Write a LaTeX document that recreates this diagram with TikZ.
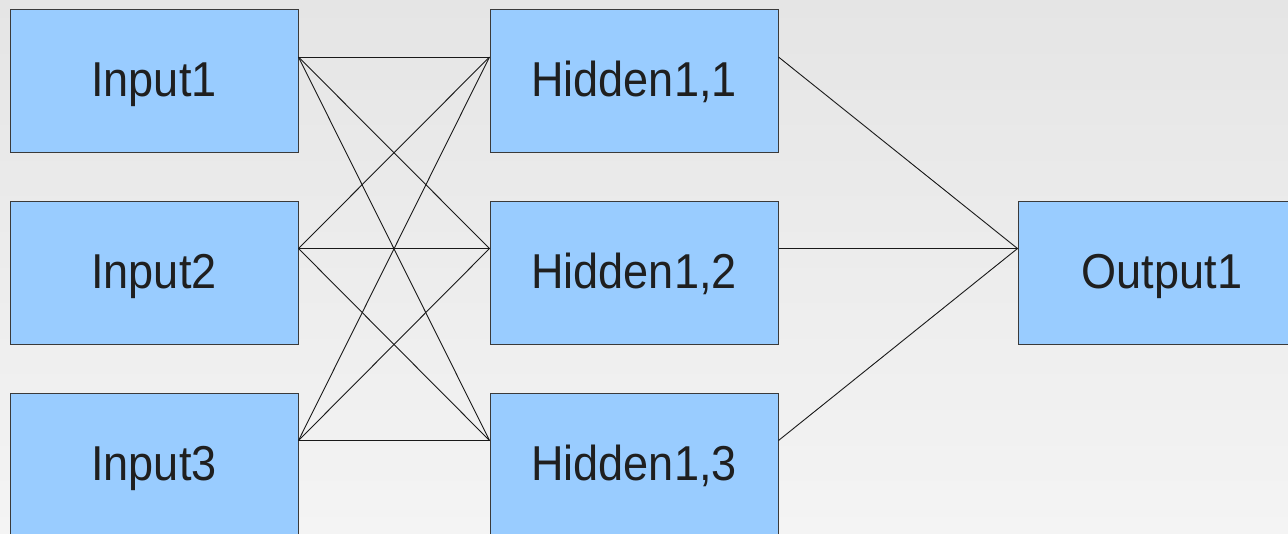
\documentclass[tikz,border=0pt]{standalone}
\usepackage{fontspec}
\setmainfont{Liberation Sans}
\newfontfamily\lblfont[FakeStretch=0.92]{Liberation Sans}
\usetikzlibrary{calc}
\definecolor{boxfill}{HTML}{99CCFF}
\definecolor{boxline}{HTML}{3A3A3A}
\definecolor{bgtop}{HTML}{E5E5E5}
\definecolor{bgbot}{HTML}{F4F4F4}
\tikzset{
  unitbox/.style={draw=boxline, line width=1pt, fill=boxfill, minimum width=288pt, minimum height=143pt,
    inner sep=0pt, text=black!88, text height=35pt, text depth=4pt,
    font=\lblfont\fontsize{49}{58}\selectfont},
  link/.style={draw=black!90, line width=0.9pt}
}
\begin{document}
\begin{tikzpicture}[x=1pt,y=-1pt]
\useasboundingbox (0,0) rectangle (1288,534);
\shade[top color=bgtop, bottom color=bgbot] (0,0) rectangle (1288,534);
\begin{scope}
\clip (0,0) rectangle (1288,534);
\node[unitbox] (i1) at (154,81.5) {Input1};
\node[unitbox] (i2) at (154,273) {Input2};
\node[unitbox] (i3) at (154,465) {Input3};
\node[unitbox] (h1) at (634,81.5) {Hidden1,1};
\node[unitbox] (h2) at (634,273) {Hidden1,2};
\node[unitbox] (h3) at (634,465) {Hidden1,3};
\node[unitbox] (o1) at (1162,273) {Output1};
\foreach \n in {i1,i2,i3,h1,h2,h3}{
  \coordinate (\n-r) at ($(\n.north east)!0.33!(\n.south east)$);
}
\foreach \n in {h1,h2,h3,o1}{
  \coordinate (\n-l) at ($(\n.north west)!0.33!(\n.south west)$);
}
\foreach \a in {i1,i2,i3}{
  \foreach \b in {h1,h2,h3}{
    \draw[link] (\a-r) -- (\b-l);
  }
}
\foreach \a in {h1,h2,h3}{
  \draw[link] (\a-r) -- (o1-l);
}
\end{scope}
\end{tikzpicture}
\end{document}
